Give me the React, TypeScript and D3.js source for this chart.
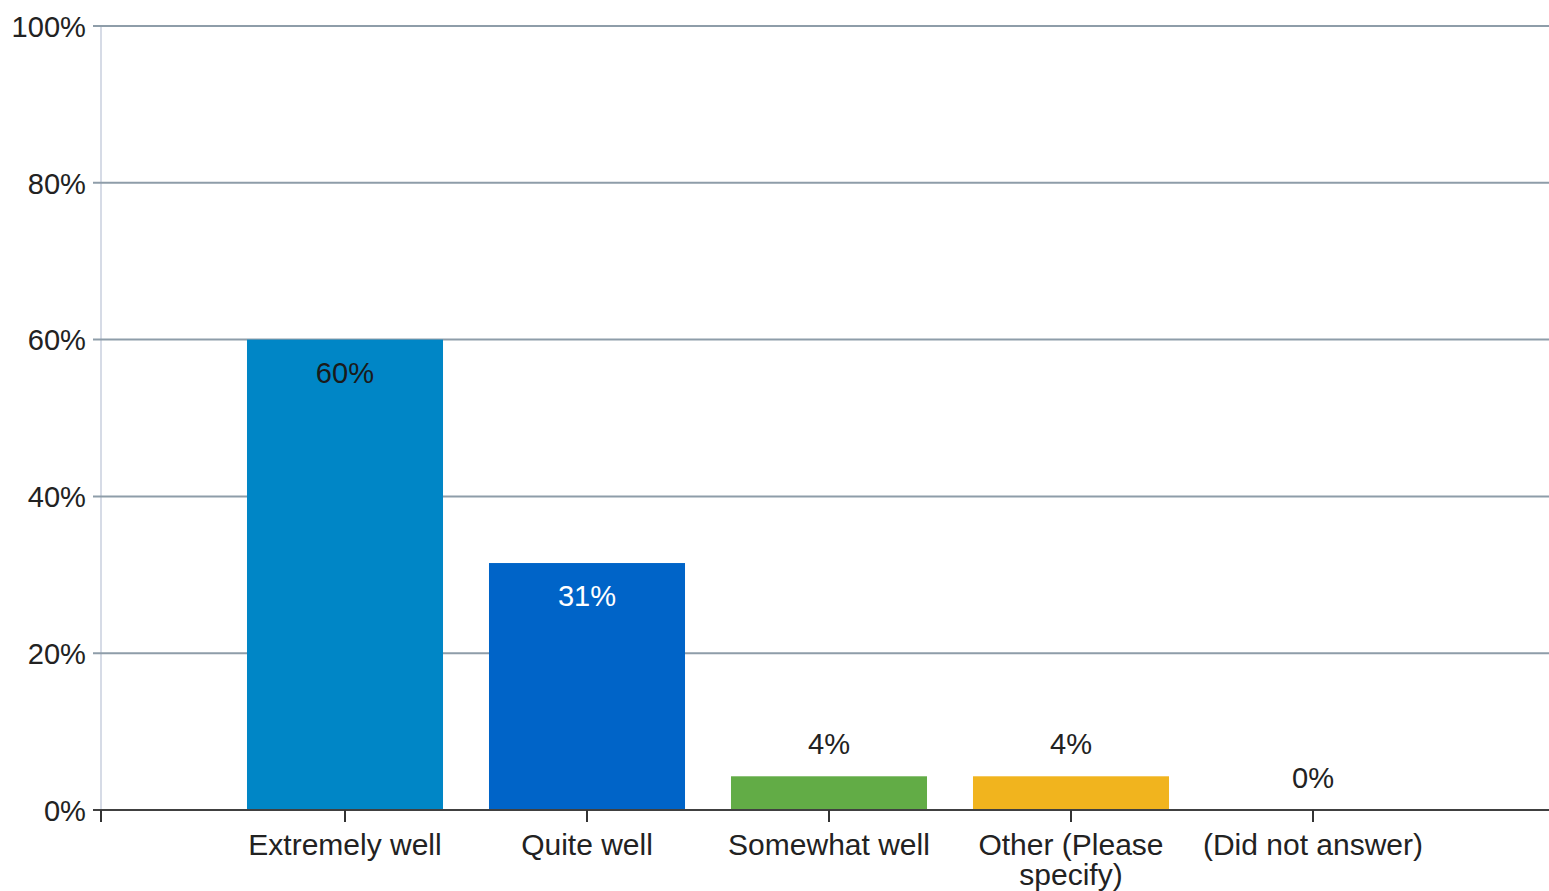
import React from "react";
import * as d3 from "d3";

const categories = ["Extremely well", "Quite well", "Somewhat well", "Other (Please specify)", "(Did not answer)"];
const categoryLines = [["Extremely well"], ["Quite well"], ["Somewhat well"], ["Other (Please", "specify)"], ["(Did not answer)"]];
const values = [60, 31.5, 4.3, 4.3, 0];
const valueLabels = ["60%", "31%", "4%", "4%", "0%"];
const barColors = ["#0086C6", "#0064C8", "#62AC46", "#F1B41E", "#999999"];
const labelColors = ["#1a1a1a", "#ffffff", "#222222", "#222222", "#222222"];
const labelInside = [true, true, false, false, false];
const yTicks = [0, 20, 40, 60, 80, 100];

const W = 1549;
const H = 891;
const FONT = "'Liberation Sans', Arial, sans-serif";

export default function App() {
  const y = d3.scaleLinear().domain([0, 100]).range([810, 26]);
  const x = d3.scaleBand<string>().domain(categories).range([224, 1434]).paddingInner(0.19).paddingOuter(0.095);
  const axisLeft = 101;
  return (
    <svg width={W} height={H} style={{ position: "absolute", left: 0, top: 0, background: "#fff" }} fontFamily={FONT}>
      {/* y axis line */}
      <line x1={axisLeft} x2={axisLeft} y1={y(100)} y2={y(0)} stroke="#D6DBE6" strokeWidth={2} />
      {/* grid lines */}
      {yTicks.filter(t => t > 0).map(t => (
        <line key={t} x1={93} x2={W} y1={y(t)} y2={y(t)} stroke="#8E9DA9" strokeWidth={2} />
      ))}
      {/* y tick labels */}
      {yTicks.map(t => (
        <text key={t} x={86} y={y(t)} dy="0.36em" textAnchor="end" fontSize={30} fill="#222" transform={`translate(86,0) scale(0.97,1) translate(-86,0)`}>
          {t}%
        </text>
      ))}
      {/* bars */}
      {categories.map((c, i) => (
        <rect key={c} x={x(c)} y={y(values[i])} width={x.bandwidth()} height={y(0) - y(values[i])} fill={barColors[i]} />
      ))}
      {/* x axis */}
      <line x1={93} x2={W} y1={y(0)} y2={y(0)} stroke="#404040" strokeWidth={2} />
      <line x1={axisLeft} x2={axisLeft} y1={y(0)} y2={y(0) + 12} stroke="#333" strokeWidth={2} />
      {categories.map(c => {
        const cx = (x(c) as number) + x.bandwidth() / 2;
        return <line key={c} x1={cx} x2={cx} y1={y(0)} y2={y(0) + 12} stroke="#333" strokeWidth={2} />;
      })}
      {/* category labels */}
      {categories.map((c, i) => {
        const cx = (x(c) as number) + x.bandwidth() / 2;
        return (
          <text key={c} x={cx} y={855} textAnchor="middle" fontSize={30} fill="#222">
            {categoryLines[i].map((l, k) => (
              <tspan key={k} x={cx} dy={k === 0 ? 0 : 30}>{l}</tspan>
            ))}
          </text>
        );
      })}
      {/* value labels */}
      {categories.map((c, i) => {
        const cx = (x(c) as number) + x.bandwidth() / 2;
        const ty = labelInside[i] ? y(values[i]) + 43 : y(values[i]) - 22;
        return (
          <text key={c} x={cx} y={ty} textAnchor="middle" fontSize={30} fill={labelColors[i]} transform={`translate(${cx},0) scale(0.97,1) translate(${-cx},0)`}>
            {valueLabels[i]}
          </text>
        );
      })}
    </svg>
  );
}
